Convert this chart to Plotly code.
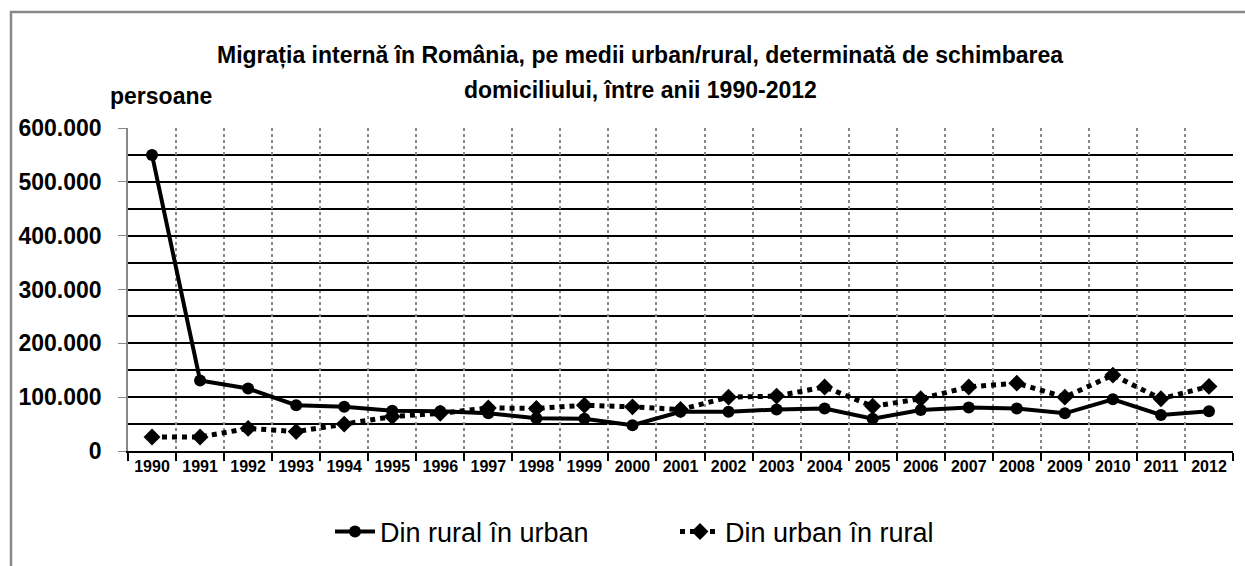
import plotly.graph_objects as go

years = [str(y) for y in range(1990, 2013)]
rural_to_urban = [550000, 131000, 116000, 85000, 82000, 75000, 74000, 70000, 61000, 60000, 48000,
                  73000, 73000, 77000, 79000, 60000, 76000, 81000, 79000, 70000, 96000, 67000, 74000]
urban_to_rural = [26000, 26000, 42000, 36000, 50000, 64000, 70000, 80000, 79000, 85000, 82000,
                  77000, 100000, 102000, 119000, 83000, 97000, 119000, 126000, 100000, 141000, 97000, 120000]
y_ticks = [0, 100000, 200000, 300000, 400000, 500000, 600000]
title_lines = ["Migrația internă în România, pe medii urban/rural, determinată de schimbarea",
               "domiciliului, între anii 1990-2012"]

FONT = "Liberation Sans Narrow, Arial Narrow, Liberation Sans, Arial, sans-serif"

L, R, T, B = 128, 12, 128, 115
W, H = 1245, 566
pw, ph = W - L - R, H - T - B

def px(x):
    return (x - L) / pw

def py(y):
    return (H - B - y) / ph

fig = go.Figure()
fig.add_trace(go.Scatter(
    x=years, y=rural_to_urban, name="Din rural în urban", mode="lines+markers",
    line=dict(color="black", width=4), marker=dict(symbol="circle", size=12, color="black")))
fig.add_trace(go.Scatter(
    x=years, y=urban_to_rural, name="Din urban în rural", mode="lines+markers",
    line=dict(color="black", width=5, dash="dot"), marker=dict(symbol="diamond", size=13, color="black")))

fig.update_layout(
    width=W, height=H,
    margin=dict(l=L, r=R, t=T, b=B, autoexpand=False),
    paper_bgcolor="white", plot_bgcolor="white",
    separators=",.",
    font=dict(family=FONT, color="black"),
    showlegend=True,
    legend=dict(orientation="h", x=px(330), xanchor="left", y=py(532), yanchor="middle",
                font=dict(size=27, family=FONT), itemwidth=40, entrywidth=290),
    xaxis=dict(type="category", tickson="boundaries", showgrid=True, gridcolor="#888888",
               griddash="dot", gridwidth=2, showline=True, linecolor="black", linewidth=1.5,
               ticks="outside", ticklen=8, tickcolor="black", tickwidth=1.5,
               tickfont=dict(size=16, family=FONT, weight="bold"), range=[-0.5, 22.5]),
    yaxis=dict(range=[0, 600000], tickvals=y_ticks, tickformat=",d",
               showgrid=True, gridcolor="black", gridwidth=1.5,
               minor=dict(dtick=50000, showgrid=True, gridcolor="black", gridwidth=1.5),
               showline=True, linecolor="#888888", linewidth=1.5,
               ticks="outside", ticklen=8, tickcolor="#888888", ticklabelstandoff=12,
               tickfont=dict(size=23, family=FONT, weight="bold"), zeroline=False),
)

for text, yy in zip(title_lines, [55, 90]):
    fig.add_annotation(text="<b>" + text + "</b>", xref="paper", yref="paper", x=px(640), y=py(yy),
                       xanchor="center", yanchor="middle", showarrow=False,
                       font=dict(size=23, family=FONT))
fig.add_annotation(text="<b>persoane</b>", xref="paper", yref="paper", x=px(108), y=py(96),
                   xanchor="left", yanchor="middle", showarrow=False, font=dict(size=23, family=FONT))
fig.add_shape(type="rect", xref="paper", yref="paper", x0=px(11), y0=py(12), x1=px(1265), y1=py(590),
              line=dict(color="#888888", width=2.5), layer="below")

fig.write_html("out.html", config={"displayModeBar": False},
               post_script="document.body.style.margin='0';document.body.style.overflow='hidden';")
